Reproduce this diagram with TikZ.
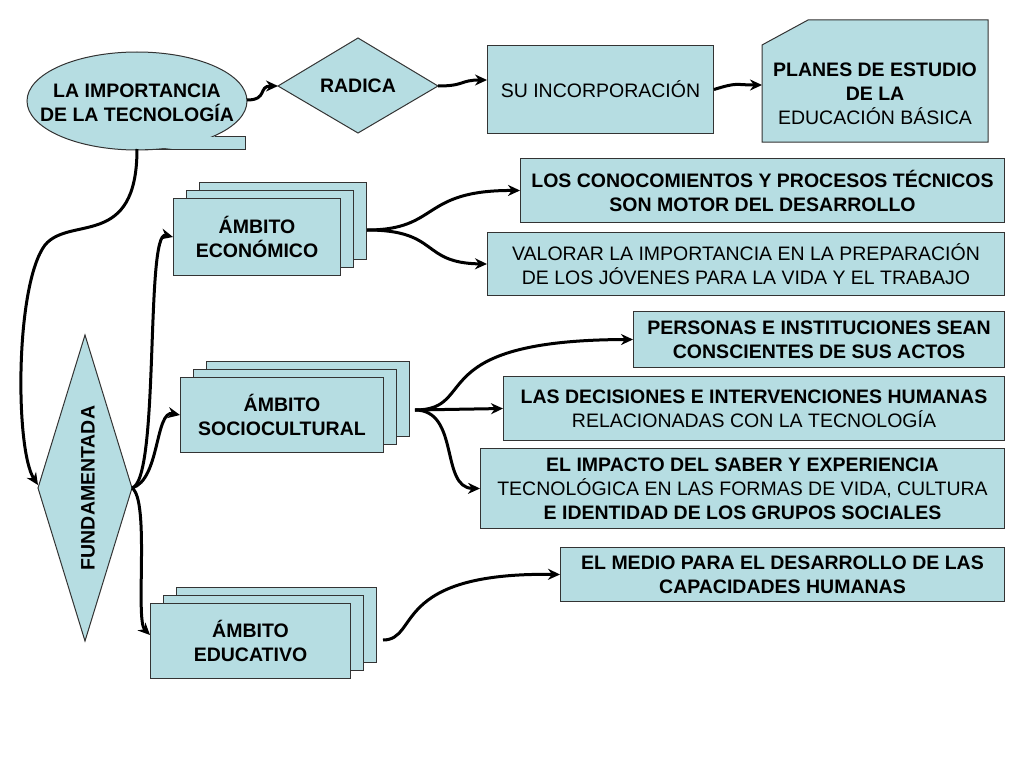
\documentclass[tikz,border=0pt]{standalone}
\usepackage{fontspec}
\setmainfont{Liberation Sans}
\usetikzlibrary{arrows.meta,shapes.geometric}
\definecolor{boxc}{HTML}{B6DDE2}
\newcommand{\fz}{\fontsize{19.5}{24}\selectfont}
\tikzset{
 bx/.style={draw=black!80,fill=boxc,line width=1pt,anchor=north west,align=center,inner sep=0pt,font=\fz},
 cn/.style={line width=3pt,-{Stealth[length=12pt,width=11pt]}},
}
\begin{document}
\begin{tikzpicture}[x=1pt,y=-1pt]
\useasboundingbox (0,0) rectangle (1024,768);
% ellipse with tab
\fill[boxc] (215,136)--(245,136)--(245,149)--(137,149)--cycle;
\draw[fill=boxc,line width=1pt,draw=black!80] (137,101) ellipse [x radius=110,y radius=49];
\fill[boxc] (200,137)--(244,137)--(244,148)--(150,148)--cycle;
\draw[line width=1pt,black!80] (215,136)--(245,136)--(245,149)--(145,149);
\node[align=center,font=\fz\bfseries] (imp) at (137,103) {LA IMPORTANCIA\\DE LA TECNOLOGÍA};
\coordinate (impR) at (247,100);
\coordinate (impB) at (137,149);
% RADICA
\draw[fill=boxc,line width=1pt,draw=black!80] (278,86)--(358,38)--(438,86)--(358,133)--cycle;
\node[font=\fz\bfseries] (rad) at (358,86) {RADICA};
\node[bx,minimum width=226,minimum height=88] (su) at (487,45) {SU INCORPORACIÓN};
\draw[fill=boxc,line width=1pt,draw=black!80] (762,45)--(808,20)--(988,20)--(988,142)--(762,142)--cycle;
\node[align=center,font=\fz\bfseries] (pl) at (875,94) {PLANES DE ESTUDIO\\DE LA\\\mdseries EDUCACIÓN BÁSICA};
% FUNDAMENTADA
\draw[fill=boxc,line width=1pt,draw=black!80] (38,488)--(85,335)--(132,488)--(85,641)--cycle;
\node[rotate=90,font=\fz\bfseries] (fu) at (88,488) {FUNDAMENTADA};
% stacks
\foreach \x/\y/\w/\h in {173/198/167/77,180/377/203/75,150/603/200/75}{
 \draw[fill=boxc,line width=1pt,draw=black!80] (\x+26,\y-16) rectangle ++(\w,\h);
 \draw[fill=boxc,line width=1pt,draw=black!80] (\x+13,\y-8) rectangle ++(\w,\h);
}
\node[bx,minimum width=167,minimum height=77,font=\fz\bfseries] (eco) at (173,198) {ÁMBITO\\ECONÓMICO};
\node[bx,minimum width=203,minimum height=75,font=\fz\bfseries] (soc) at (180,377) {ÁMBITO\\SOCIOCULTURAL};
\node[bx,minimum width=200,minimum height=75,font=\fz\bfseries] (edu) at (150,603) {ÁMBITO\\EDUCATIVO};
% right boxes
\node[bx,minimum width=484,minimum height=64,font=\fz\bfseries] (b1) at (520,158) {LOS CONOCOMIENTOS Y PROCESOS TÉCNICOS\\SON MOTOR DEL DESARROLLO};
\node[bx,minimum width=517,minimum height=63] (b2) at (487,232) {VALORAR LA IMPORTANCIA EN LA PREPARACIÓN\\DE LOS JÓVENES PARA LA VIDA Y EL TRABAJO};
\node[bx,minimum width=371,minimum height=56,font=\fz\bfseries] (b3) at (633,311) {PERSONAS E INSTITUCIONES SEAN\\CONSCIENTES DE SUS ACTOS};
\node[bx,minimum width=501,minimum height=64] (b4) at (503,376) {\textbf{LAS DECISIONES E INTERVENCIONES HUMANAS}\\RELACIONADAS CON LA TECNOLOGÍA};
\node[bx,minimum width=524,minimum height=80] (b5) at (480,448) {\textbf{EL IMPACTO DEL SABER Y EXPERIENCIA}\\TECNOLÓGICA EN LAS FORMAS DE VIDA, CULTURA\\\textbf{E IDENTIDAD DE LOS GRUPOS SOCIALES}};
\node[bx,minimum width=444,minimum height=54,font=\fz\bfseries] (b6) at (560,547) {EL MEDIO PARA EL DESARROLLO DE LAS\\CAPACIDADES HUMANAS};
% connectors
\draw[cn] (impR) .. controls (268,100) and (258,86) .. (278,86);
\draw[cn] (438,86) .. controls (465,86) and (460,80) .. (487,80);
\draw[cn] (su.east) .. controls (738,82) and (735,85) .. (762,85);
\draw[cn] (impB) .. controls (137,250) and (70,215) .. (45,245) .. controls (15,285) and (15,450) .. (38,485);
\coordinate (fr) at (132,488);
\draw[cn] (fr) .. controls (160,480) and (145,230) .. (eco.west);
\draw[cn] (fr) .. controls (160,480) and (155,410) .. (soc.west);
\draw[cn] (fr) .. controls (150,500) and (135,620) .. (150,635);
\coordinate (er) at (367,230);
\draw[cn] (er) .. controls (440,230) and (420,190) .. (b1.west);
\draw[cn] (er) .. controls (440,230) and (420,263) .. (b2.west);
\coordinate (sr) at (415,410);
\draw[cn] (sr) .. controls (480,410) and (420,340) .. (b3.west);
\draw[cn] (sr) -- (b4.west);
\draw[cn] (sr) .. controls (460,410) and (440,488) .. (b5.west);
\coordinate (edr) at (383,640);
\draw[cn] (edr) .. controls (420,640) and (390,572) .. (b6.west);
\end{tikzpicture}
\end{document}
